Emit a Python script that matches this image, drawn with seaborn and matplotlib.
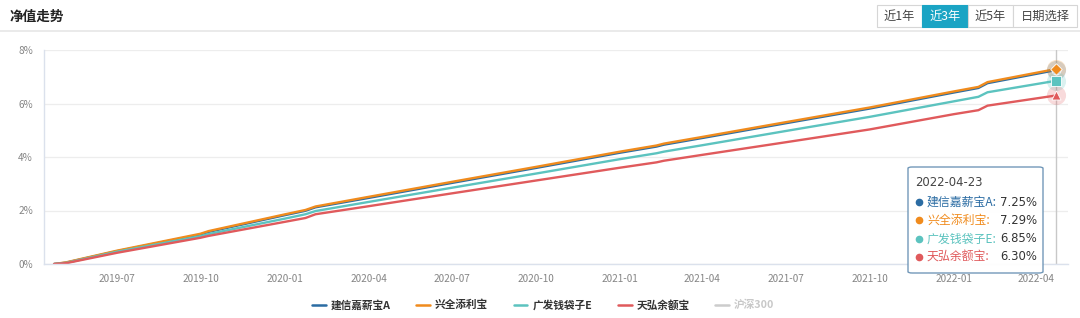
import matplotlib
matplotlib.use("Agg")
import matplotlib.pyplot as plt
from matplotlib.lines import Line2D
from matplotlib.patches import FancyBboxPatch, Rectangle
import seaborn as sns
import pandas as pd

# ---------------- data (cumulative return, %) ----------------
dates = ["2019-04-23", "2019-05-06", "2019-07-01", "2019-09-30", "2019-10-09",
         "2020-01-01", "2020-01-23", "2020-02-03", "2020-04-01", "2020-07-01",
         "2020-10-01", "2021-01-01", "2021-02-10", "2021-02-18", "2021-04-01",
         "2021-07-01", "2021-10-01", "2022-01-01", "2022-01-28", "2022-02-07",
         "2022-04-23"]

jianxin = [0.00, 0.05, 0.48, 1.10, 1.20, 1.83, 1.99, 2.12, 2.47, 3.03,
           3.59, 4.16, 4.39, 4.46, 4.71, 5.26, 5.81, 6.41, 6.58, 6.76, 7.25]
xingquan = [0.00, 0.06, 0.50, 1.13, 1.23, 1.86, 2.02, 2.15, 2.51, 3.07,
            3.63, 4.20, 4.43, 4.50, 4.75, 5.30, 5.85, 6.45, 6.62, 6.80, 7.29]
guangfa = [0.00, 0.04, 0.46, 1.04, 1.12, 1.70, 1.86, 1.98, 2.32, 2.85,
           3.38, 3.92, 4.14, 4.20, 4.44, 4.97, 5.50, 6.08, 6.25, 6.42, 6.85]
tianhong = [0.00, 0.03, 0.42, 0.98, 1.05, 1.58, 1.72, 1.86, 2.16, 2.64,
            3.12, 3.60, 3.80, 3.86, 4.08, 4.55, 5.03, 5.60, 5.75, 5.92, 6.30]

series_names = ["建信嘉薪宝A", "兴全添利宝", "广发钱袋子E", "天弘余额宝"]
series_values = [jianxin, xingquan, guangfa, tianhong]
colors = ["#2b6ca3", "#f08b1d", "#5cc3bf", "#e05a5c"]
inactive_name = "沪深300"
tooltip_date = "2022-04-23"

yticks = [0, 2, 4, 6, 8]
xtick_labels = ["2019-07", "2019-10", "2020-01", "2020-04", "2020-07", "2020-10",
                "2021-01", "2021-04", "2021-07", "2021-10", "2022-01", "2022-04"]

# ---------------- build frame ----------------
df = pd.concat([
    pd.DataFrame({"date": pd.to_datetime(dates), "value": v, "fund": n})
    for n, v in zip(series_names, series_values)
], ignore_index=True)

sns.set_theme(style="white")
plt.rcParams["font.family"] = ["Noto Sans CJK SC", "DejaVu Sans"]

W, H = 1080, 318
fig = plt.figure(figsize=(W / 100, H / 100), dpi=100)

def fx(px):
    return px / W

def fy(py):
    return 1 - py / H

ax = fig.add_axes([fx(44), fy(264), fx(1068) - fx(44), fy(50) - fy(264)])

palette = dict(zip(series_names, colors))
sns.lineplot(data=df, x="date", y="value", hue="fund", hue_order=series_names,
             palette=palette, linewidth=1.7, ax=ax, legend=False)

# axes styling
ax.set_xlim(pd.Timestamp("2019-04-12"), pd.Timestamp("2022-05-06"))
ax.set_ylim(0, 8)
ax.set_yticks(yticks)
ax.set_yticklabels([f"{t}%" for t in yticks])
ax.set_xticks([pd.Timestamp(l + "-01") for l in xtick_labels])
ax.set_xticklabels(xtick_labels)
ax.set_xlabel("")
ax.set_ylabel("")
ax.grid(axis="y", color="#ededed", linewidth=0.9)
ax.grid(axis="x", visible=False)
for s in ["top", "right"]:
    ax.spines[s].set_visible(False)
for s in ["left", "bottom"]:
    ax.spines[s].set_color("#dbe1ec")
    ax.spines[s].set_linewidth(1.0)
ax.tick_params(axis="both", colors="#dbe1ec", labelcolor="#858585",
               labelsize=7.2, length=4, width=1)
ax.tick_params(axis="y", pad=4)
ax.tick_params(axis="x", pad=3)

# hover line + end markers
end_date = pd.Timestamp(tooltip_date)
ax.axvline(end_date, color="#c8c8c8", linewidth=1, zorder=1)
markers = ["o", "D", "s", "^"]
for n, v, c, m in zip(series_names, series_values, colors, markers):
    ax.scatter([end_date], [v[-1]], s=190, color=c, alpha=0.22, linewidths=0, zorder=4)
for n, v, c, m in zip(series_names, series_values, colors, markers):
    ax.scatter([end_date], [v[-1]], s=42 if m != "D" else 34, marker=m, color=c,
               edgecolors="white", linewidths=0.6, zorder=5)

# ---------------- header ----------------
fig.text(fx(10), fy(17), "净值走势", fontsize=9.8, fontweight="bold",
         color="#222222", va="center", ha="left")
fig.add_artist(Line2D([0, 1], [fy(31), fy(31)], color="#e6e6e6", linewidth=1.2,
                      transform=fig.transFigure))

buttons = [("近1年", 877, 922, False), ("近3年", 922, 968, True),
           ("近5年", 968, 1013, False), ("日期选择", 1013, 1077, False)]
for label, x0, x1, sel in buttons:
    rect = Rectangle((fx(x0), fy(27)), fx(x1) - fx(x0), fy(5) - fy(27),
                     transform=fig.transFigure,
                     facecolor="#1aa4c4" if sel else "white",
                     edgecolor="#1aa4c4" if sel else "#d6d6d6", linewidth=0.8)
    fig.add_artist(rect)
    fig.text(fx((x0 + x1) / 2), fy(16.5), label, fontsize=8.8,
             color="white" if sel else "#444444", ha="center", va="center")

# ---------------- tooltip ----------------
box = FancyBboxPatch((fx(908), fy(273)), fx(1043) - fx(908), fy(167) - fy(273),
                     boxstyle="round,pad=0,rounding_size=0.004",
                     transform=fig.transFigure, facecolor="white",
                     edgecolor="#6b93b5", linewidth=1.0, alpha=0.95, zorder=10)
fig.add_artist(box)
fig.text(fx(915), fy(183), tooltip_date, fontsize=8.4, color="#444444",
         family=["DejaVu Sans"], ha="left", va="center", zorder=11)
rows_y = [202, 220, 239, 257]
for n, v, c, yy in zip(series_names, series_values, colors, rows_y):
    fig.add_artist(Line2D([fx(919)], [fy(yy)], marker="o", markersize=4.5,
                          color=c, transform=fig.transFigure, zorder=11))
    fig.text(fx(927), fy(yy), n + ":", fontsize=8.6, color=c,
             ha="left", va="center", zorder=11)
    fig.text(fx(1037), fy(yy), f"{v[-1]:.2f}%", fontsize=8.4, color="#333333",
             family=["DejaVu Sans"], ha="right", va="center", zorder=11)

# ---------------- legend ----------------
handles = [Line2D([], [], color=c, linewidth=1.8) for c in colors]
handles.append(Line2D([], [], color="#cccccc", linewidth=1.8))
labels = series_names + [inactive_name]
leg = fig.legend(handles, labels, loc="center", bbox_to_anchor=(fx(543), fy(305)),
                 ncol=5, frameon=False, fontsize=7.7, handlelength=1.3,
                 handletextpad=0.45, columnspacing=2.4)
for t, c in zip(leg.get_texts(), ["#333333"] * 4 + ["#c8c8c8"]):
    t.set_color(c)
    t.set_fontweight("bold")

fig.savefig("out.png", dpi=100)
